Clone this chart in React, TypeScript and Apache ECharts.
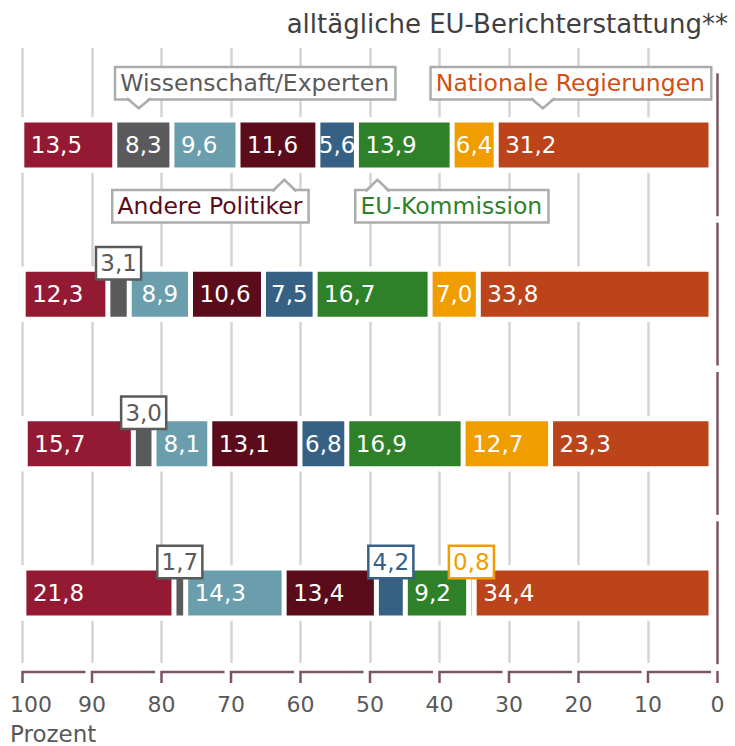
import React, { useEffect, useRef } from "react";
import * as echarts from "echarts";

// ---------- data ----------
const rows = ["Zeile 1", "Zeile 2", "Zeile 3", "Zeile 4"];
const seriesNames = [
  "Gruppe A",
  "Wissenschaft/Experten",
  "Gruppe B",
  "Andere Politiker",
  "Gruppe C",
  "EU-Kommission",
  "Gruppe D",
  "Nationale Regierungen",
];
const valuesA = [13.5, 12.3, 15.7, 21.8];
const valuesWissenschaft = [8.3, 3.1, 3.0, 1.7];
const valuesB = [9.6, 8.9, 8.1, 14.3];
const valuesAndere = [11.6, 10.6, 13.1, 13.4];
const valuesC = [5.6, 7.5, 6.8, 4.2];
const valuesKommission = [13.9, 16.7, 16.9, 9.2];
const valuesD = [6.4, 7.0, 12.7, 0.8];
const valuesNational = [31.2, 33.8, 23.3, 34.4];
const seriesValues = [
  valuesA,
  valuesWissenschaft,
  valuesB,
  valuesAndere,
  valuesC,
  valuesKommission,
  valuesD,
  valuesNational,
];
const tickValues = [0, 10, 20, 30, 40, 50, 60, 70, 80, 90, 100];
const titleText = "alltägliche EU-Berichterstattung**";
const axisName = "Prozent";
// callouts: label text, row, series index
const calloutTexts = ["Wissenschaft/Experten", "Nationale Regierungen", "Andere Politiker", "EU-Kommission"];
const calloutRows = [0, 0, 0, 0];
const calloutSeries = [1, 7, 3, 5];

// ---------- styles ----------
const FONT = "DejaVu Sans";
const colors = ["#941a33", "#5a5a5c", "#6a9eac", "#5a0c1b", "#366185", "#2f8129", "#f09d00", "#bb441b"];
const calloutColors = ["#5a5a5c", "#d0500f", "#5a0c1b", "#2f8129"];
const calloutLayout = [
  { side: "top", frac: 0.42, align: "left", dx: -22.5 },
  { side: "top", frac: 0.217, align: "left", dx: -111 },
  { side: "bottom", frac: 0.58, align: "right", dx: 23 },
  { side: "bottom", frac: 0.22, align: "left", dx: -21 },
];
const MAROON = "#7c5565";
const GRID_GRAY = "#d5d5d5";
const BOX_GRAY = "#a9aeaa";
const TEXT_GRAY = "#595959";
const BAR_W = 50;
const BAR_VIS = 47.5;
const LABEL_SIZE = 23;

const fmt = (v: number) => v.toFixed(1).replace(".", ",");

function labelFor(v: number, color: string) {
  if (v < 5) {
    return {
      show: true,
      position: "top",
      distance: -9,
      color: color,
      fontSize: LABEL_SIZE,
      fontFamily: FONT,
      backgroundColor: "#fff",
      borderColor: color,
      borderWidth: 2.5,
      padding: [2, 3, 2, 3],
      lineHeight: 26,
    };
  }
  if (v < 9) {
    return { show: true, position: "inside", color: "#fff", fontSize: LABEL_SIZE, fontFamily: FONT };
  }
  return { show: true, position: "insideLeft", distance: 9, color: "#fff", fontSize: LABEL_SIZE, fontFamily: FONT };
}

export default function App() {
  const ref = useRef<HTMLDivElement>(null);
  useEffect(() => {
    if (!ref.current) return;
    const chart = echarts.init(ref.current, undefined, { renderer: "svg" });

    // bar series, stacked from value 0 (right side) leftwards
    const order = [7, 6, 5, 4, 3, 2, 1, 0];
    const barSeries = order.map((k) => ({
      type: "bar",
      name: seriesNames[k],
      stack: "total",
      xAxisIndex: 1,
      yAxisIndex: 1,
      barWidth: BAR_W,
      z: 2,
      itemStyle: { color: colors[k], borderColor: "#fff", borderWidth: 2.5 },
      label: { formatter: (p: any) => fmt(p.value) },
      data: seriesValues[k].map((v) => ({ value: v, label: labelFor(v, colors[k]) })),
    }));

    // callout anchor values from the stack
    const calloutData = calloutTexts.map((t, i) => {
      const r = calloutRows[i];
      const k = calloutSeries[i];
      let start = 0;
      for (let j = 7; j > k; j--) start += seriesValues[j][r];
      const end = start + seriesValues[k][r];
      const pv = end - calloutLayout[i].frac * (end - start);
      return [pv, r];
    });

    const option: any = {
      animation: false,
      textStyle: { fontFamily: FONT },
      title: {
        text: titleText,
        right: 2,
        top: 6,
        textStyle: { fontSize: 26, fontWeight: "normal", color: "#404040", fontFamily: FONT },
      },
      grid: [
        { left: 22.5, right: 17.5, top: 48, bottom: 83 },
        { left: 22.5, right: 24, top: 70.35, bottom: 78.35 },
      ],
      xAxis: [
        {
          gridIndex: 0,
          type: "value",
          min: 0,
          max: 100,
          interval: 10,
          inverse: true,
          axisLine: { show: false },
          axisTick: { show: false },
          splitLine: { show: true, showMinLine: false, lineStyle: { color: GRID_GRAY, width: 2.5 } },
          axisLabel: {
            margin: 30,
            fontSize: 22,
            color: TEXT_GRAY,
            fontFamily: FONT,
            formatter: (v: number) => (v === 100 ? "{s|100}" : String(v)),
            rich: { s: { padding: [0, 0, 0, 17], fontSize: 22, color: TEXT_GRAY, fontFamily: FONT } },
          },
        },
        {
          gridIndex: 1,
          type: "value",
          min: 0,
          max: 100,
          inverse: true,
          show: false,
        },
      ],
      yAxis: [
        { gridIndex: 0, type: "value", min: 0, max: 1, show: false },
        { gridIndex: 1, type: "category", data: rows, inverse: true, show: false },
      ],
      graphic: [
        {
          type: "text",
          left: 10,
          top: 722,
          style: { text: axisName, fontSize: 23, fill: TEXT_GRAY, fontFamily: FONT },
        },
      ],
      series: [
        // axis brackets
        {
          type: "custom",
          xAxisIndex: 0,
          yAxisIndex: 0,
          z: 1,
          silent: true,
          data: tickValues.map((v) => [v, 0]),
          renderItem: (params: any, api: any) => {
            const v = api.value(0);
            const p = api.coord([v, 0]);
            const cs = params.coordSys;
            const yl = cs.y + cs.height + 9;
            if (v <= 0) {
              return {
                type: "line",
                shape: { x1: p[0], y1: yl - 1, x2: p[0], y2: yl + 11 },
                style: { stroke: MAROON, lineWidth: 2.5 },
              };
            }
            const nx = api.coord([v - 10, 0])[0];
            return {
              type: "polyline",
              shape: { points: [[p[0], yl + 11], [p[0], yl], [nx - 6.5, yl]] },
              style: { stroke: MAROON, lineWidth: 2.5, fill: "none" },
            };
          },
        },
        // white masks behind bars + right-side row brackets
        {
          type: "custom",
          xAxisIndex: 1,
          yAxisIndex: 1,
          z: 1,
          silent: true,
          encode: { x: 0, y: 1 },
          data: rows.map((r, i) => [0, i]),
          renderItem: (params: any, api: any) => {
            const idx = api.value(1);
            const c = api.coord([0, idx]);
            const band = api.size([0, 1])[1];
            const cs = params.coordSys;
            const half = BAR_VIS / 2 + 4;
            return {
              type: "group",
              children: [
                {
                  type: "rect",
                  shape: { x: cs.x - 3, y: c[1] - half, width: c[0] - cs.x + 4, height: half * 2 },
                  style: { fill: "#fff" },
                },
                {
                  type: "line",
                  shape: { x1: c[0] + 6.5, y1: c[1] - band / 2 + 3, x2: c[0] + 6.5, y2: c[1] + band / 2 - 3.5 },
                  style: { stroke: MAROON, lineWidth: 2.5 },
                },
              ],
            };
          },
        },
        ...barSeries,
        // callouts
        {
          type: "custom",
          xAxisIndex: 1,
          yAxisIndex: 1,
          z: 5,
          silent: true,
          encode: { x: 0, y: 1 },
          data: calloutData,
          renderItem: (params: any, api: any) => {
            const i = params.dataIndex;
            const L = calloutLayout[i];
            const p = api.coord([api.value(0), api.value(1)]);
            const px = p[0];
            const top = L.side === "top";
            const edge = top ? p[1] - BAR_VIS / 2 : p[1] + BAR_VIS / 2;
            const tipY = top ? edge - 13 : edge + 11;
            const boxEdge = top ? edge - 23 : edge + 22.5;
            const inner = top ? boxEdge - 1.8 : boxEdge + 1.8;
            return {
              type: "group",
              children: [
                {
                  type: "text",
                  x: px + L.dx,
                  y: boxEdge,
                  style: {
                    text: calloutTexts[i],
                    fill: calloutColors[i],
                    fontSize: 23.5,
                    fontFamily: FONT,
                    align: L.align,
                    verticalAlign: top ? "bottom" : "top",
                    backgroundColor: "#fff",
                    borderColor: BOX_GRAY,
                    borderWidth: 2.5,
                    padding: [2, 5, 2, 4],
                    lineHeight: 26,
                  },
                },
                {
                  type: "polygon",
                  shape: { points: [[px - 11, inner], [px + 11, inner], [px, tipY]] },
                  style: { fill: "#fff" },
                },
                {
                  type: "polyline",
                  shape: { points: [[px - 12, boxEdge], [px, tipY], [px + 12, boxEdge]] },
                  style: { stroke: BOX_GRAY, lineWidth: 2.5, fill: "none" },
                },
              ],
            };
          },
        },
      ],
    };
    chart.setOption(option);
    return () => chart.dispose();
  }, []);
  return <div ref={ref} style={{ width: 735, height: 746, position: "absolute", left: 0, top: 0 }} />;
}
